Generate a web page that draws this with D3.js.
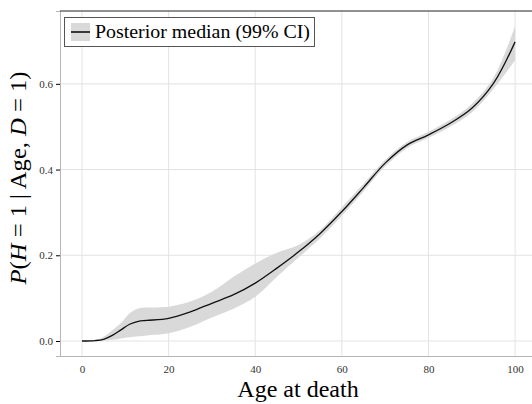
<!DOCTYPE html>
<html>
<head>
<meta charset="utf-8">
<script src="https://cdn.jsdelivr.net/npm/d3@7"></script>
<style>
  body { margin: 0; background: #fff; }
  svg { display: block; font-family: "Liberation Serif", serif; }
</style>
</head>
<body>
<div id="chart"></div>
<script>
// Chart values
const ages   = [0, 3, 5, 7, 9, 11, 13, 15, 20, 25, 30, 35, 40, 45, 50, 55, 60, 65, 70, 75, 80, 85, 90, 95, 100];
const median = [0, 0.001, 0.004, 0.013, 0.026, 0.039, 0.046, 0.048, 0.053, 0.068, 0.088, 0.108, 0.135, 0.17, 0.208, 0.251, 0.302, 0.358, 0.415, 0.457, 0.481, 0.508, 0.543, 0.601, 0.698];
const lower  = [0, 0, 0.001, 0.003, 0.006, 0.009, 0.011, 0.013, 0.018, 0.033, 0.055, 0.075, 0.103, 0.15, 0.195, 0.24, 0.292, 0.349, 0.407, 0.45, 0.474, 0.5, 0.533, 0.588, 0.655];
const upper  = [0, 0.002, 0.01, 0.025, 0.042, 0.065, 0.076, 0.078, 0.08, 0.092, 0.115, 0.15, 0.181, 0.206, 0.224, 0.259, 0.312, 0.367, 0.423, 0.464, 0.488, 0.516, 0.553, 0.614, 0.735];
const xTicks = [0, 20, 40, 60, 80, 100];
const yTicks = [0.0, 0.2, 0.4, 0.6];

const width = 532, height = 404;
const margin = {top: 11, right: 0, bottom: 48, left: 60};

const svg = d3.select("#chart").append("svg")
    .attr("width", width)
    .attr("height", height);

const x = d3.scaleLinear().domain([-5.08, 103.9]).range([margin.left, width - margin.right]);
const y = d3.scaleLinear().domain([-0.035, 0.77]).range([height - margin.bottom, margin.top]);

const data = ages.map((a, i) => ({age: a, med: median[i], lo: lower[i], hi: upper[i]}));

// grid
svg.append("g").selectAll("line")
    .data(xTicks).enter().append("line")
    .attr("x1", d => x(d)).attr("x2", d => x(d))
    .attr("y1", margin.top).attr("y2", height - margin.bottom)
    .attr("stroke", "#e3e3e3").attr("stroke-width", 1);
svg.append("g").selectAll("line")
    .data(yTicks).enter().append("line")
    .attr("x1", margin.left).attr("x2", width)
    .attr("y1", d => y(d)).attr("y2", d => y(d))
    .attr("stroke", "#e3e3e3").attr("stroke-width", 1);

// credible band
svg.append("path")
    .datum(data)
    .attr("fill", "#d9d9d9")
    .attr("d", d3.area()
        .x(d => x(d.age))
        .y0(d => y(d.lo))
        .y1(d => y(d.hi))
        .curve(d3.curveCatmullRom.alpha(0.5)));

// median line
svg.append("path")
    .datum(data)
    .attr("fill", "none")
    .attr("stroke", "#111")
    .attr("stroke-width", 1.3)
    .attr("d", d3.line()
        .x(d => x(d.age))
        .y(d => y(d.med))
        .curve(d3.curveCatmullRom.alpha(0.5)));

// axes
const xAxis = svg.append("g")
    .attr("transform", `translate(0,${height - margin.bottom})`)
    .call(d3.axisBottom(x).tickValues(xTicks).tickSize(0).tickPadding(9).tickFormat(d3.format("d")));
xAxis.select(".domain").attr("stroke", "#b5b5b5");
xAxis.selectAll("text").attr("font-size", 11).attr("fill", "#333").attr("font-family", "Liberation Serif, serif");

const yAxis = svg.append("g")
    .attr("transform", `translate(${margin.left},0)`)
    .call(d3.axisLeft(y).tickValues(yTicks).tickSize(4).tickPadding(3).tickFormat(d3.format(".1f")));
yAxis.select(".domain").attr("stroke", "#b5b5b5");
yAxis.selectAll(".tick line").attr("stroke", "#000");
yAxis.selectAll("text").attr("font-size", 11).attr("fill", "#333").attr("font-family", "Liberation Serif, serif");

// top border
svg.append("line")
    .attr("x1", margin.left).attr("x2", width)
    .attr("y1", margin.top).attr("y2", margin.top)
    .attr("stroke", "#222").attr("stroke-width", 1);

// axis titles
svg.append("text")
    .attr("x", 298).attr("y", 397)
    .attr("text-anchor", "middle")
    .attr("font-size", 24)
    .text("Age at death");

const yl = svg.append("text")
    .attr("transform", "translate(26,178) rotate(-90)")
    .attr("text-anchor", "middle")
    .attr("font-size", 23)
    .attr("textLength", 213)
    .attr("lengthAdjust", "spacingAndGlyphs");
yl.append("tspan").attr("font-style", "italic").text("P");
yl.append("tspan").text("(");
yl.append("tspan").attr("font-style", "italic").text("H");
yl.append("tspan").text(" = 1 | Age, ");
yl.append("tspan").attr("font-style", "italic").text("D");
yl.append("tspan").text(" = 1)");

// legend
const lg = svg.append("g");
lg.append("rect")
    .attr("x", 64.5).attr("y", 17.5).attr("width", 250).attr("height", 29)
    .attr("fill", "#fff").attr("stroke", "#555").attr("stroke-width", 1);
lg.append("rect")
    .attr("x", 71).attr("y", 23).attr("width", 19).attr("height", 18)
    .attr("fill", "#d9d9d9");
lg.append("line")
    .attr("x1", 71).attr("x2", 90).attr("y1", 32).attr("y2", 32)
    .attr("stroke", "#111").attr("stroke-width", 1.6);
lg.append("text")
    .attr("x", 95).attr("y", 38)
    .attr("font-size", 19.5)
    .attr("textLength", 215)
    .attr("lengthAdjust", "spacingAndGlyphs")
    .text("Posterior median (99% CI)");
</script>
</body>
</html>
